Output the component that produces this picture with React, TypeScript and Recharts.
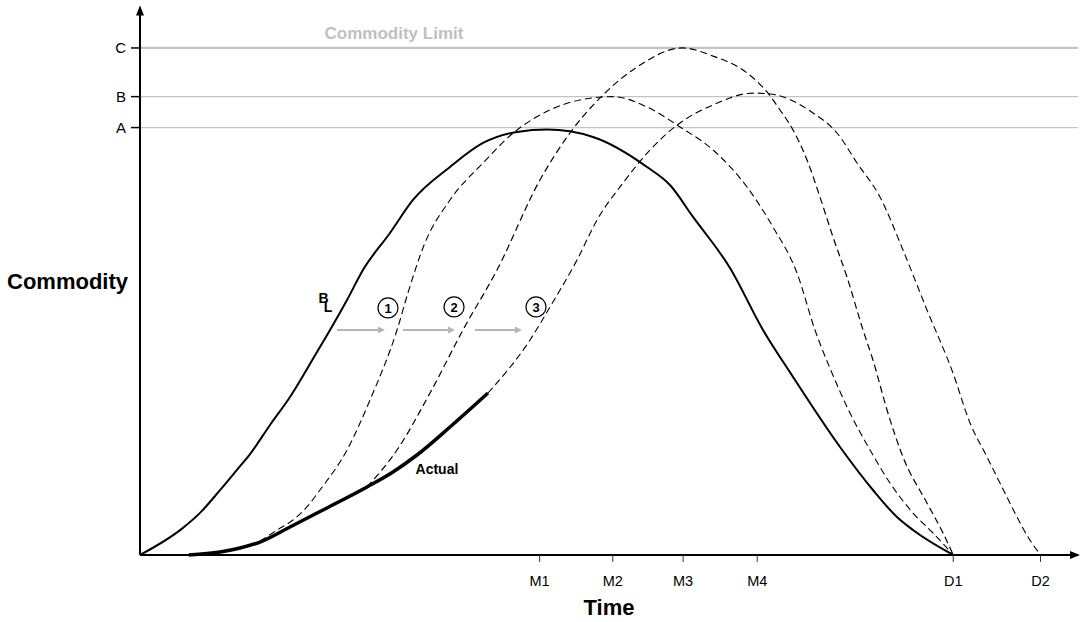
import React from "react";
import {
  LineChart,
  Line,
  XAxis,
  YAxis,
  ReferenceLine,
  ReferenceDot,
} from "recharts";

const FONT = "'Liberation Sans', Arial, sans-serif";

// time ticks along the bottom
const timeTicks = [42.6, 50.4, 57.9, 65.8, 86.7, 96.0];
const timeTickLabels = ["M1", "M2", "M3", "M4", "D1", "D2"];

// commodity levels on the left
const levelTicks = [84.3, 90.4, 100];
const levelTickLabels = ["A", "B", "C"];

// baseline plan (solid)
const baseline = [
  { t: 0, q: 0 },
  { t: 4.48, q: 5.2 },
  { t: 6.4, q: 8.3 },
  { t: 8.53, q: 12.8 },
  { t: 10.34, q: 16.8 },
  { t: 11.73, q: 19.9 },
  { t: 13.86, q: 25.64 },
  { t: 15.99, q: 31.16 },
  { t: 18.87, q: 40.04 },
  { t: 20.26, q: 44.38 },
  { t: 22.07, q: 50.3 },
  { t: 23.77, q: 56.21 },
  { t: 26.65, q: 63.51 },
  { t: 29.1, q: 70.02 },
  { t: 33.05, q: 76.53 },
  { t: 36.57, q: 81.26 },
  { t: 40.19, q: 83.43 },
  { t: 43.4, q: 83.9 },
  { t: 48.29, q: 82.45 },
  { t: 54.05, q: 76.53 },
  { t: 56.5, q: 72.98 },
  { t: 58.96, q: 66.67 },
  { t: 62.9, q: 56.61 },
  { t: 66.42, q: 44.38 },
  { t: 69.62, q: 35.11 },
  { t: 74.63, q: 21.3 },
  { t: 78.14, q: 12.82 },
  { t: 80.7, q: 7.5 },
  { t: 82.41, q: 4.93 },
  { t: 86.7, q: 0 },
];

// actual progress (thick solid)
const actual = [
  { t: 5.2, q: 0 },
  { t: 8.53, q: 0.59 },
  { t: 10.66, q: 1.38 },
  { t: 12.79, q: 2.56 },
  { t: 15.99, q: 5.52 },
  { t: 19.51, q: 8.88 },
  { t: 24.2, q: 13.41 },
  { t: 26.97, q: 16.37 },
  { t: 29.53, q: 19.72 },
  { t: 33.05, q: 25.25 },
  { t: 37.1, q: 31.95 },
];

// forecast 1 (dashed, peaks at B around M2)
const forecast1 = [
  { t: 12.79, q: 2.7 },
  { t: 14.61, q: 4.93 },
  { t: 16.31, q: 6.9 },
  { t: 17.8, q: 9.47 },
  { t: 19.19, q: 12.82 },
  { t: 22.07, q: 20.71 },
  { t: 24.52, q: 30.57 },
  { t: 27.4, q: 44.38 },
  { t: 28.6, q: 51.9 },
  { t: 30.3, q: 61.2 },
  { t: 33.05, q: 70.02 },
  { t: 36.57, q: 77.32 },
  { t: 39.77, q: 83.2 },
  { t: 43.39, q: 87.5 },
  { t: 46.91, q: 89.74 },
  { t: 50.43, q: 90.4 },
  { t: 54.05, q: 88.36 },
  { t: 57.57, q: 84.42 },
  { t: 61.09, q: 79.88 },
  { t: 64.71, q: 72.58 },
  { t: 67.48, q: 64.69 },
  { t: 70.04, q: 55.62 },
  { t: 71.96, q: 44.38 },
  { t: 73.77, q: 35.9 },
  { t: 75.69, q: 28.01 },
  { t: 77.83, q: 20.71 },
  { t: 79.96, q: 14.2 },
  { t: 82.41, q: 8.28 },
  { t: 84.54, q: 4.34 },
  { t: 86.7, q: 0 },
];

// forecast 2 (dashed, peaks at C around M3)
const forecast2 = [
  { t: 24.2, q: 13.41 },
  { t: 27.4, q: 20.71 },
  { t: 30.92, q: 31.95 },
  { t: 34.43, q: 44.38 },
  { t: 38.06, q: 56.21 },
  { t: 42.64, q: 73.96 },
  { t: 45.84, q: 83.23 },
  { t: 49.36, q: 90.73 },
  { t: 52.99, q: 96.25 },
  { t: 57.8, q: 100 },
  { t: 61.09, q: 98.4 },
  { t: 64.71, q: 95.07 },
  { t: 66.84, q: 91.32 },
  { t: 68.23, q: 87.77 },
  { t: 69.62, q: 83.83 },
  { t: 71.11, q: 77.91 },
  { t: 72.49, q: 70.61 },
  { t: 73.88, q: 62.72 },
  { t: 75.37, q: 54.83 },
  { t: 77.08, q: 44.38 },
  { t: 78.14, q: 38.46 },
  { t: 79.64, q: 28.6 },
  { t: 81.34, q: 19.33 },
  { t: 83.9, q: 10.26 },
  { t: 85.61, q: 4.34 },
  { t: 86.7, q: 0 },
];

// forecast 3 (dashed, peaks near B around M4, ends at D2)
const forecast3 = [
  { t: 37.1, q: 31.95 },
  { t: 41.58, q: 42.41 },
  { t: 43.71, q: 48.92 },
  { t: 46.59, q: 58.19 },
  { t: 48.72, q: 66.07 },
  { t: 51.49, q: 73.37 },
  { t: 54.37, q: 79.88 },
  { t: 57.57, q: 85.21 },
  { t: 61.09, q: 88.76 },
  { t: 65.35, q: 91.1 },
  { t: 67.16, q: 90.93 },
  { t: 71.75, q: 87.18 },
  { t: 74.31, q: 83.23 },
  { t: 76.44, q: 77.32 },
  { t: 78.89, q: 70.61 },
  { t: 81.34, q: 60.16 },
  { t: 83.9, q: 48.32 },
  { t: 86.67, q: 35.9 },
  { t: 88.49, q: 26.04 },
  { t: 90.3, q: 19.33 },
  { t: 91.68, q: 14.2 },
  { t: 93.5, q: 7.5 },
  { t: 94.67, q: 3.55 },
  { t: 96.0, q: 0 },
];

// annotation spots
const stepMarks = [
  { t: 26.44, q: 48.72, label: "1" },
  { t: 33.48, q: 48.92, label: "2" },
  { t: 42.22, q: 48.92, label: "3" },
];
const shiftArrows = [
  { from: 21.0, to: 26.12, q: 44.38 },
  { from: 28.04, to: 33.58, q: 44.38 },
  { from: 35.71, to: 40.72, q: 44.38 },
];

const ArrowShape = (p: any) => {
  const { x1, y1, x2, y2 } = p;
  return (
    <g>
      <line x1={x1} y1={y1} x2={x2 - 5} y2={y2} stroke="#b5b5b5" strokeWidth={1.8} />
      <polygon
        points={`${x2},${y2} ${x2 - 7},${y2 - 3.5} ${x2 - 7},${y2 + 3.5}`}
        fill="#b5b5b5"
      />
    </g>
  );
};

const RightHead = (p: any) => (
  <polygon
    points={`${p.cx + 2},${p.cy} ${p.cx - 8},${p.cy - 4} ${p.cx - 8},${p.cy + 4}`}
    fill="#000"
  />
);

const UpHead = (p: any) => (
  <polygon
    points={`${p.cx},${p.cy - 2} ${p.cx - 4},${p.cy + 8} ${p.cx + 4},${p.cy + 8}`}
    fill="#000"
  />
);

const textLabel = (value: string, size: number, color = "#000") => ({
  value,
  position: "center" as const,
  fill: color,
  fontSize: size,
  fontWeight: "bold",
  fontFamily: FONT,
});

export default function App() {
  return (
    <div style={{ position: "absolute", left: 0, top: 0, background: "#fff" }}>
      <LineChart
        width={1081}
        height={622}
        margin={{ top: 7.4, right: 3, bottom: 0, left: 0 }}
      >
        <XAxis
          type="number"
          dataKey="t"
          domain={[0, 100]}
          ticks={timeTicks}
          interval={0}
          tickFormatter={(v) => timeTickLabels[timeTicks.indexOf(v)] ?? ""}
          height={67}
          tickSize={7}
          tickMargin={14}
          axisLine={{ stroke: "#000", strokeWidth: 2 }}
          tickLine={{ stroke: "#333", strokeWidth: 1 }}
          tick={{ fill: "#000", fontSize: 14.5, fontFamily: FONT }}
          label={{
            value: "Time",
            position: "insideBottom",
            offset: 7,
            fill: "#000",
            fontSize: 22,
            fontWeight: "bold",
            fontFamily: FONT,
          }}
        />
        <YAxis
          type="number"
          dataKey="q"
          domain={[0, 108]}
          ticks={levelTicks}
          interval={0}
          tickFormatter={(v) => levelTickLabels[levelTicks.indexOf(v)] ?? ""}
          width={140}
          tickSize={9}
          tickMargin={5}
          axisLine={{ stroke: "#000", strokeWidth: 2 }}
          tickLine={{ stroke: "#000", strokeWidth: 1.5 }}
          tick={{ fill: "#000", fontSize: 15, fontFamily: FONT }}
          label={{
            value: "Commodity",
            position: "insideLeft",
            offset: 7,
            fill: "#000",
            fontSize: 22,
            fontWeight: "bold",
            fontFamily: FONT,
          }}
        />

        <ReferenceLine y={levelTicks[2]} stroke="#c4c4c4" strokeWidth={2.2} />
        <ReferenceLine y={levelTicks[1]} stroke="#c4c4c4" strokeWidth={1.2} />
        <ReferenceLine y={levelTicks[0]} stroke="#c4c4c4" strokeWidth={1.2} />

        <Line
          data={baseline}
          dataKey="q"
          type="monotone"
          stroke="#000"
          strokeWidth={2}
          dot={false}
          activeDot={false}
          isAnimationActive={false}
        />
        <Line
          data={forecast1}
          dataKey="q"
          type="monotone"
          stroke="#000"
          strokeWidth={1.1}
          strokeDasharray="7 4"
          dot={false}
          activeDot={false}
          isAnimationActive={false}
        />
        <Line
          data={forecast2}
          dataKey="q"
          type="monotone"
          stroke="#000"
          strokeWidth={1.2}
          strokeDasharray="7 4"
          dot={false}
          activeDot={false}
          isAnimationActive={false}
        />
        <Line
          data={forecast3}
          dataKey="q"
          type="monotone"
          stroke="#000"
          strokeWidth={1.1}
          strokeDasharray="7 4"
          dot={false}
          activeDot={false}
          isAnimationActive={false}
        />
        <Line
          data={actual}
          dataKey="q"
          type="monotone"
          stroke="#000"
          strokeWidth={3.5}
          dot={false}
          activeDot={false}
          isAnimationActive={false}
        />

        {shiftArrows.map((a, i) => (
          <ReferenceLine
            key={`arrow-${i}`}
            segment={[
              { x: a.from, y: a.q },
              { x: a.to, y: a.q },
            ]}
            shape={ArrowShape}
          />
        ))}

        {stepMarks.map((m) => (
          <ReferenceDot
            key={`step-${m.label}`}
            x={m.t}
            y={m.q}
            r={10}
            fill="#fff"
            stroke="#000"
            strokeWidth={1.2}
            label={textLabel(m.label, 13)}
          />
        ))}

        <ReferenceDot x={19.56} y={50.7} r={1} fill="none" stroke="none" label={textLabel("B", 14)} />
        <ReferenceDot x={20.04} y={49.0} r={1} fill="none" stroke="none" label={textLabel("L", 14)} />
        <ReferenceDot x={31.66} y={16.96} r={1} fill="none" stroke="none" label={textLabel("Actual", 14)} />
        <ReferenceDot
          x={27.08}
          y={102.86}
          r={1}
          fill="none"
          stroke="none"
          label={textLabel("Commodity Limit", 17, "#c0c0c0")}
        />

        <ReferenceDot x={100} y={0} r={1} shape={RightHead} />
        <ReferenceDot x={0} y={108} r={1} shape={UpHead} />
      </LineChart>
    </div>
  );
}
